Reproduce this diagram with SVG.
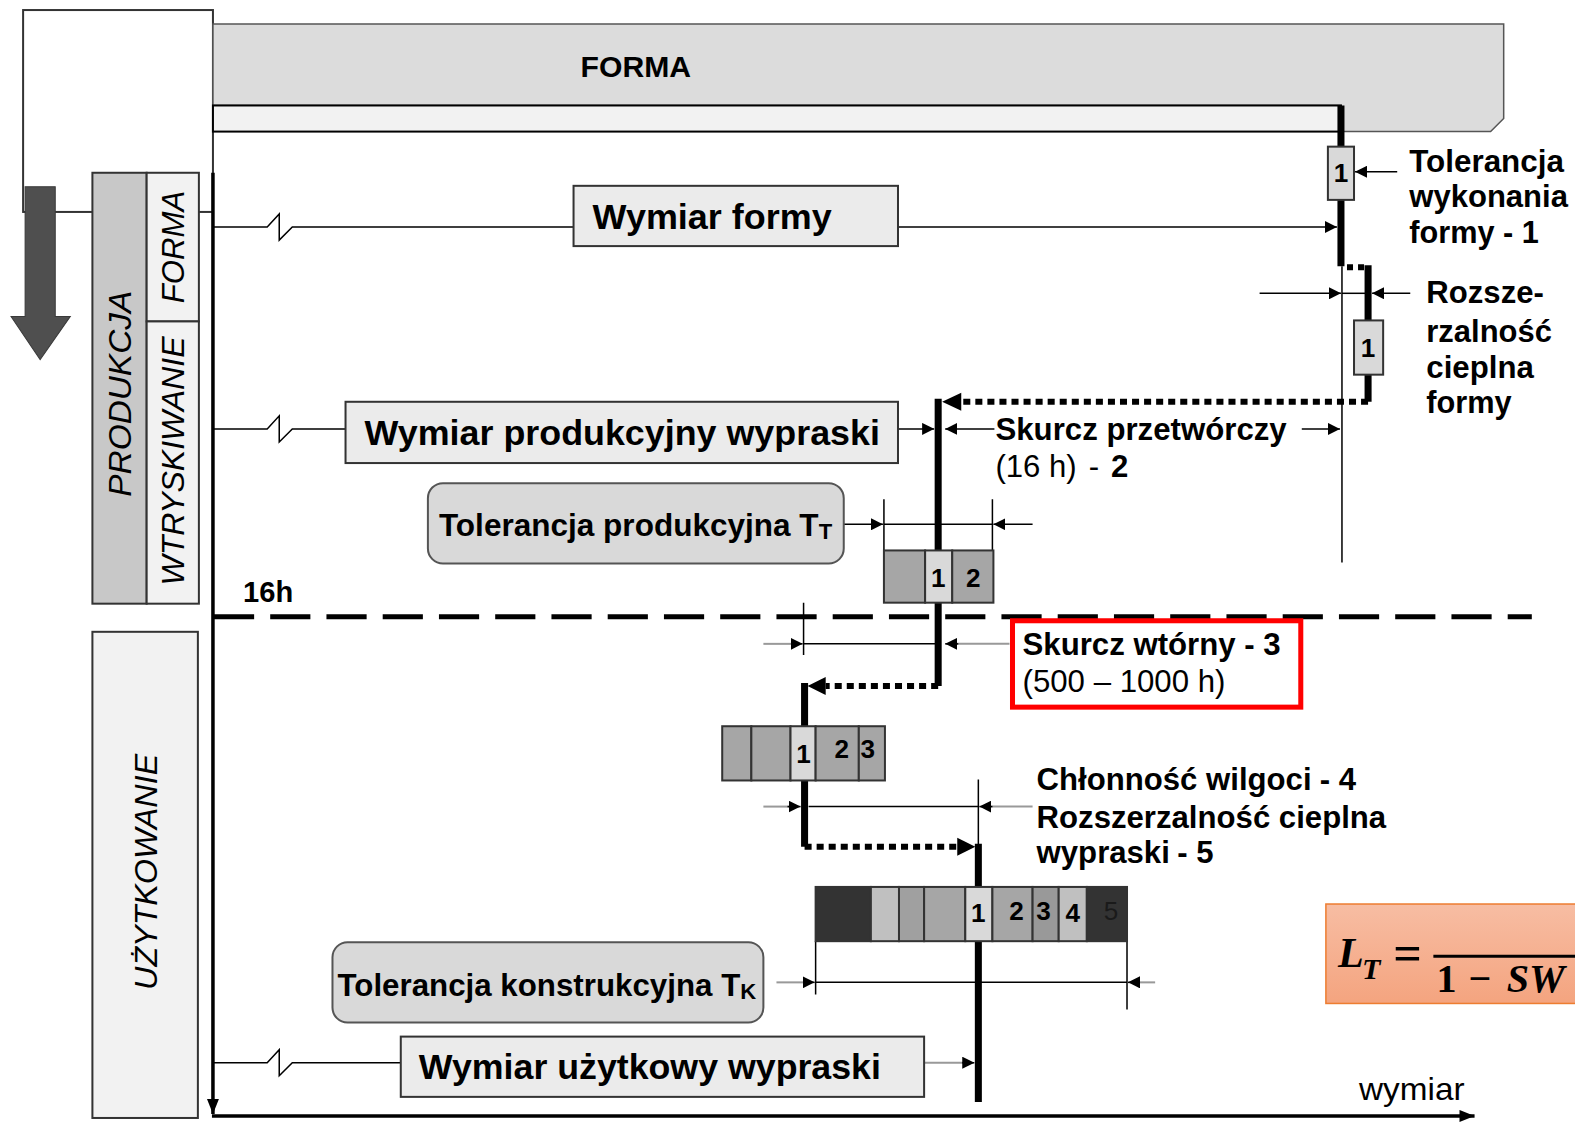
<svg xmlns="http://www.w3.org/2000/svg" width="1575" height="1123" viewBox="0 0 1575 1123">
<defs>
<style>
text{font-family:"Liberation Sans",Arial,sans-serif;fill:#000}
.lbl{font-size:35px;font-weight:bold}
.tl{font-size:31px;font-weight:bold}
.ann{font-size:31px;font-weight:bold}
.reg{font-size:31px;font-weight:normal}
.rot{font-size:31px;font-style:italic;text-anchor:middle}
.num{font-size:26px;font-weight:bold;text-anchor:middle}
.thin{stroke:#000;stroke-width:1.5;fill:none}
.gr{stroke:#999;stroke-width:2;fill:none}
.thick{stroke:#000;stroke-width:7;fill:none}
.dot{stroke:#000;stroke-width:6;stroke-dasharray:7 5;fill:none}
.box{fill:#ebebeb;stroke:#333;stroke-width:2}
.tol{fill:#d9d9d9;stroke:#555;stroke-width:2}
.cell{stroke:#333;stroke-width:2}
.math{font-family:"Liberation Serif","Times New Roman",serif;font-weight:bold}
</style>
<marker id="ah" markerUnits="userSpaceOnUse" markerWidth="12" markerHeight="12" refX="12" refY="6" orient="auto"><path d="M0,0 L12,6 L0,12 Z" fill="#000"/></marker>
<marker id="ax" markerUnits="userSpaceOnUse" markerWidth="15" markerHeight="12" refX="15" refY="6" orient="auto"><path d="M0,0 L15,6 L0,12 Z" fill="#000"/></marker>
<linearGradient id="og" x1="0" y1="0" x2="0" y2="1"><stop offset="0" stop-color="#f7bda3"/><stop offset="1" stop-color="#f4a47f"/></linearGradient>
</defs>
<rect width="1575" height="1123" fill="#fff"/>
<g transform="scale(1.004464)">

<g id="frame">
<rect x="23" y="10" width="189" height="201" fill="#fff" stroke="#333" stroke-width="2"/>
<path d="M40,358 L11,315 L25,315 L25,186 L55,186 L55,315 L70,315 Z" fill="#4f4f4f" stroke="#3a3a3a" stroke-width="1"/>
</g>

<g id="forma-bar">
<path d="M212,24 L1497,24 L1497,118 L1484,131 L1335,131 L1335,105 L212,105 Z" fill="#dcdcdc" stroke="#555" stroke-width="1.5"/>
<rect x="212" y="105" width="1123" height="26" fill="#f2f2f2" stroke="#000" stroke-width="2"/>
<text x="633" y="77" font-size="30" font-weight="bold" text-anchor="middle">FORMA</text>
</g>

<g id="produkcja">
<rect x="92" y="172" width="54" height="429" fill="#c8c8c8" stroke="#333" stroke-width="2"/>
<rect x="146" y="172" width="52" height="148" fill="#f2f2f2" stroke="#333" stroke-width="2"/>
<rect x="146" y="320" width="52" height="281" fill="#f2f2f2" stroke="#333" stroke-width="2"/>
<text class="rot" transform="translate(130,392) rotate(-90)" textLength="205" lengthAdjust="spacingAndGlyphs">PRODUKCJA</text>
<text class="rot" transform="translate(183,246) rotate(-90)" textLength="112" lengthAdjust="spacingAndGlyphs">FORMA</text>
<text class="rot" transform="translate(183,459) rotate(-90)" textLength="248" lengthAdjust="spacingAndGlyphs">WTRYSKIWANIE</text>
</g>

<g id="uzytkowanie">
<rect x="92" y="629" width="105" height="484" fill="#f2f2f2" stroke="#333" stroke-width="2"/>
<text class="rot" transform="translate(156,868) rotate(-90)" textLength="235" lengthAdjust="spacingAndGlyphs">UŻYTKOWANIE</text>
</g>

<g id="connectors">
<path d="M212,172 L212,1109" stroke="#000" stroke-width="3.5" fill="none" marker-end="url(#ax)"/>
<path d="M211,1111 L1468,1111" stroke="#000" stroke-width="3.5" fill="none" marker-end="url(#ax)"/>
<path d="M213,614 L1525,614" stroke="#000" stroke-width="5" stroke-dasharray="40 16" fill="none"/>
<path class="thin" d="M213,226 L266,226 L278,213 L278,239 L291,226 L571,226"/>
<path class="thin" d="M213,427 L266,427 L278,414 L278,440 L291,427 L344,427"/>
<path class="thin" d="M213,1058 L266,1058 L278,1045 L278,1071 L291,1058 L399,1058"/>
<path class="thick" d="M1335,105 L1335,265"/>
<path d="M1341,266 L1358,266" stroke="#000" stroke-width="6" stroke-dasharray="6 5" fill="none"/>
<path class="thick" d="M1362,264 L1362,400"/>
<path class="thin" d="M1336,265 L1336,560"/>
<path class="thin" d="M894,226 L1331,226" marker-end="url(#ah)"/>
<path class="thin" d="M1391,171 L1349,171" marker-end="url(#ah)"/>
<path class="thin" d="M1254,292 L1335,292" marker-end="url(#ah)"/>
<path class="thin" d="M1336,292 L1362,292"/>
<path class="thin" d="M1404,292 L1366,292" marker-end="url(#ah)"/>
<path class="dot" d="M1362,400 L956,400"/>
<path d="M938,400 L957,391 L957,409 Z" fill="#000"/>
<path class="thick" d="M934,397 L934,683"/>
<path class="dot" d="M934,683 L822,683"/>
<path d="M804,683 L822,674 L822,692 Z" fill="#000"/>
<path class="thick" d="M801,680 L801,843"/>
<path class="dot" d="M801,843 L954,843"/>
<path d="M971,843 L953,834 L953,852 Z" fill="#000"/>
<path class="thick" d="M974,840 L974,1097"/>
<path class="thin" d="M894,427 L930,427" marker-end="url(#ah)"/>
<path class="thin" d="M990,427 L941,427" marker-end="url(#ah)"/>
<path class="thin" d="M1296,427 L1334,427" marker-end="url(#ah)"/>
<path class="thin" d="M880,497 L880,548 M988,497 L988,548 M880,522 L988,522"/>
<path class="thin" d="M840,522 L879,522" marker-end="url(#ah)"/>
<path class="thin" d="M1028,522 L989,522" marker-end="url(#ah)"/>
<path class="thin" d="M800,600 L800,652 M800,641 L931,641"/>
<path class="gr" d="M760,641 L790,641"/>
<path class="thin" d="M788,641 L799,641" marker-end="url(#ah)"/>
<path class="gr" d="M1005,641 L952,641"/>
<path class="thin" d="M954,641 L941,641" marker-end="url(#ah)"/>
<path class="thin" d="M805,803 L974,803 M974,776 L974,843"/>
<path class="gr" d="M760,803 L786,803"/>
<path class="thin" d="M784,803 L797,803" marker-end="url(#ah)"/>
<path class="gr" d="M1028,803 L986,803"/>
<path class="thin" d="M988,803 L975,803" marker-end="url(#ah)"/>
<path class="thin" d="M812,937 L812,990 M1122,937 L1122,1005 M812,978 L1122,978"/>
<path class="gr" d="M773,978 L802,978"/>
<path class="thin" d="M800,978 L811,978" marker-end="url(#ah)"/>
<path class="gr" d="M1150,978 L1132,978"/>
<path class="thin" d="M1134,978 L1123,978" marker-end="url(#ah)"/>
<path class="gr" d="M920,1058 L960,1058"/>
<path class="thin" d="M958,1058 L970,1058" marker-end="url(#ah)"/>
</g>

<g id="tol-mold-1">
<rect x="1322" y="146" width="26" height="53" fill="#d9d9d9" stroke="#333" stroke-width="2"/>
<text class="num" x="1335" y="181">1</text>
</g>
<g id="tol-mold-2">
<rect x="1348" y="319" width="29" height="54" fill="#d9d9d9" stroke="#333" stroke-width="2"/>
<text class="num" x="1362" y="355">1</text>
</g>

<g id="wymiar-formy">
<rect class="box" x="571" y="185" width="323" height="60"/>
<text class="lbl" x="590" y="228" textLength="238" lengthAdjust="spacingAndGlyphs">Wymiar formy</text>
</g>

<g id="wymiar-produkcyjny">
<rect class="box" x="344" y="400" width="550" height="61"/>
<text class="lbl" x="363" y="443" textLength="513" lengthAdjust="spacingAndGlyphs">Wymiar produkcyjny wypraski</text>
</g>

<g id="tolerancja-produkcyjna">
<rect class="tol" x="426" y="481" width="414" height="80" rx="15"/>
<text class="tl" x="437" y="534" textLength="378" lengthAdjust="spacingAndGlyphs">Tolerancja produkcyjna T</text>
<text x="815" y="537" font-size="22" font-weight="bold">T</text>
</g>

<g id="cells-production">
<rect class="cell" x="880" y="548" width="41" height="52" fill="#a6a6a6"/>
<rect class="cell" x="921" y="548" width="27" height="52" fill="#d9d9d9"/>
<rect class="cell" x="948" y="548" width="41" height="52" fill="#a6a6a6"/>
<text class="num" x="934" y="584">1</text>
<text class="num" x="969" y="584">2</text>
</g>

<g id="cells-secondary">
<rect class="cell" x="719" y="723" width="29" height="54" fill="#a6a6a6"/>
<rect class="cell" x="748" y="723" width="39" height="54" fill="#a6a6a6"/>
<rect class="cell" x="787" y="723" width="25" height="54" fill="#d9d9d9"/>
<rect class="cell" x="812" y="723" width="43" height="54" fill="#a6a6a6"/>
<rect class="cell" x="855" y="723" width="26" height="54" fill="#a6a6a6"/>
<text class="num" x="800" y="760">1</text>
<text class="num" x="838" y="755">2</text>
<text class="num" x="864" y="755">3</text>
</g>

<g id="cells-usage">
<rect class="cell" x="812" y="883" width="55" height="54" fill="#333"/>
<rect class="cell" x="867" y="883" width="28" height="54" fill="#c0c0c0"/>
<rect class="cell" x="895" y="883" width="25" height="54" fill="#a0a0a0"/>
<rect class="cell" x="920" y="883" width="41" height="54" fill="#a6a6a6"/>
<rect class="cell" x="961" y="883" width="27" height="54" fill="#d9d9d9"/>
<rect class="cell" x="988" y="883" width="40" height="54" fill="#a6a6a6"/>
<rect class="cell" x="1028" y="883" width="26" height="54" fill="#999"/>
<rect class="cell" x="1054" y="883" width="28" height="54" fill="#c0c0c0"/>
<rect class="cell" x="1082" y="883" width="40" height="54" fill="#333"/>
<text class="num" x="974" y="918">1</text>
<text class="num" x="1012" y="916">2</text>
<text class="num" x="1039" y="916">3</text>
<text class="num" x="1068" y="918">4</text>
<text class="num" x="1106" y="916" style="fill:#1a1a1a;font-weight:normal">5</text>
</g>

<g id="tolerancja-konstrukcyjna">
<rect class="tol" x="331" y="938" width="429" height="80" rx="15"/>
<text class="tl" x="336" y="992" textLength="401" lengthAdjust="spacingAndGlyphs">Tolerancja konstrukcyjna T</text>
<text x="737" y="995" font-size="22" font-weight="bold">K</text>
</g>

<g id="wymiar-uzytkowy">
<rect class="box" x="399" y="1032" width="521" height="60"/>
<text class="lbl" x="417" y="1074" textLength="460" lengthAdjust="spacingAndGlyphs">Wymiar użytkowy wypraski</text>
</g>

<g id="labels">
<text x="242" y="599" font-size="29" font-weight="bold">16h</text>
<text class="ann" x="1403" y="171" textLength="154" lengthAdjust="spacingAndGlyphs">Tolerancja</text>
<text class="ann" x="1403" y="206" textLength="158" lengthAdjust="spacingAndGlyphs">wykonania</text>
<text class="ann" x="1403" y="242" textLength="129" lengthAdjust="spacingAndGlyphs">formy - 1</text>
<text class="ann" x="1420" y="302" textLength="117" lengthAdjust="spacingAndGlyphs">Rozsze-</text>
<text class="ann" x="1420" y="340" textLength="125" lengthAdjust="spacingAndGlyphs">rzalność</text>
<text class="ann" x="1420" y="376" textLength="107" lengthAdjust="spacingAndGlyphs">cieplna</text>
<text class="ann" x="1420" y="411" textLength="85" lengthAdjust="spacingAndGlyphs">formy</text>
<text class="ann" x="991" y="438" textLength="290" lengthAdjust="spacingAndGlyphs">Skurcz przetwórczy</text>
<text class="reg" x="991" y="475">(16 h)<tspan x="1084">-</tspan><tspan x="1106" font-weight="bold">2</tspan></text>
<text class="ann" x="1032" y="786">Chłonność wilgoci<tspan x="1314">- 4</tspan></text>
<text class="ann" x="1032" y="824" textLength="348" lengthAdjust="spacingAndGlyphs">Rozszerzalność cieplna</text>
<text class="ann" x="1032" y="859">wypraski<tspan x="1172">- 5</tspan></text>
<text class="reg" x="1353" y="1095" textLength="105" lengthAdjust="spacingAndGlyphs">wymiar</text>
</g>

<g id="skurcz-wtorny">
<rect x="1008" y="618" width="287" height="86" fill="#fff" stroke="#ff0000" stroke-width="5"/>
<text class="ann" x="1018" y="652" textLength="257" lengthAdjust="spacingAndGlyphs">Skurcz wtórny - 3</text>
<text class="reg" x="1018" y="689" textLength="202" lengthAdjust="spacingAndGlyphs">(500 – 1000 h)</text>
</g>

<g id="formula">
<rect x="1320" y="900" width="262" height="99" fill="url(#og)" stroke="#ed7d31" stroke-width="1.5"/>
<text class="math" x="1332" y="963" font-size="42" font-style="italic">L</text>
<text class="math" x="1356" y="975" font-size="30" font-style="italic">T</text>
<text class="math" x="1387" y="966" font-size="50">=</text>
<path d="M1427,952 L1582,952" stroke="#000" stroke-width="3"/>
<text class="math" x="1430" y="988" font-size="40">1</text>
<text class="math" x="1462" y="988" font-size="40">−</text>
<text class="math" x="1500" y="988" font-size="40" font-style="italic">SW</text>
</g>

</g>
</svg>
